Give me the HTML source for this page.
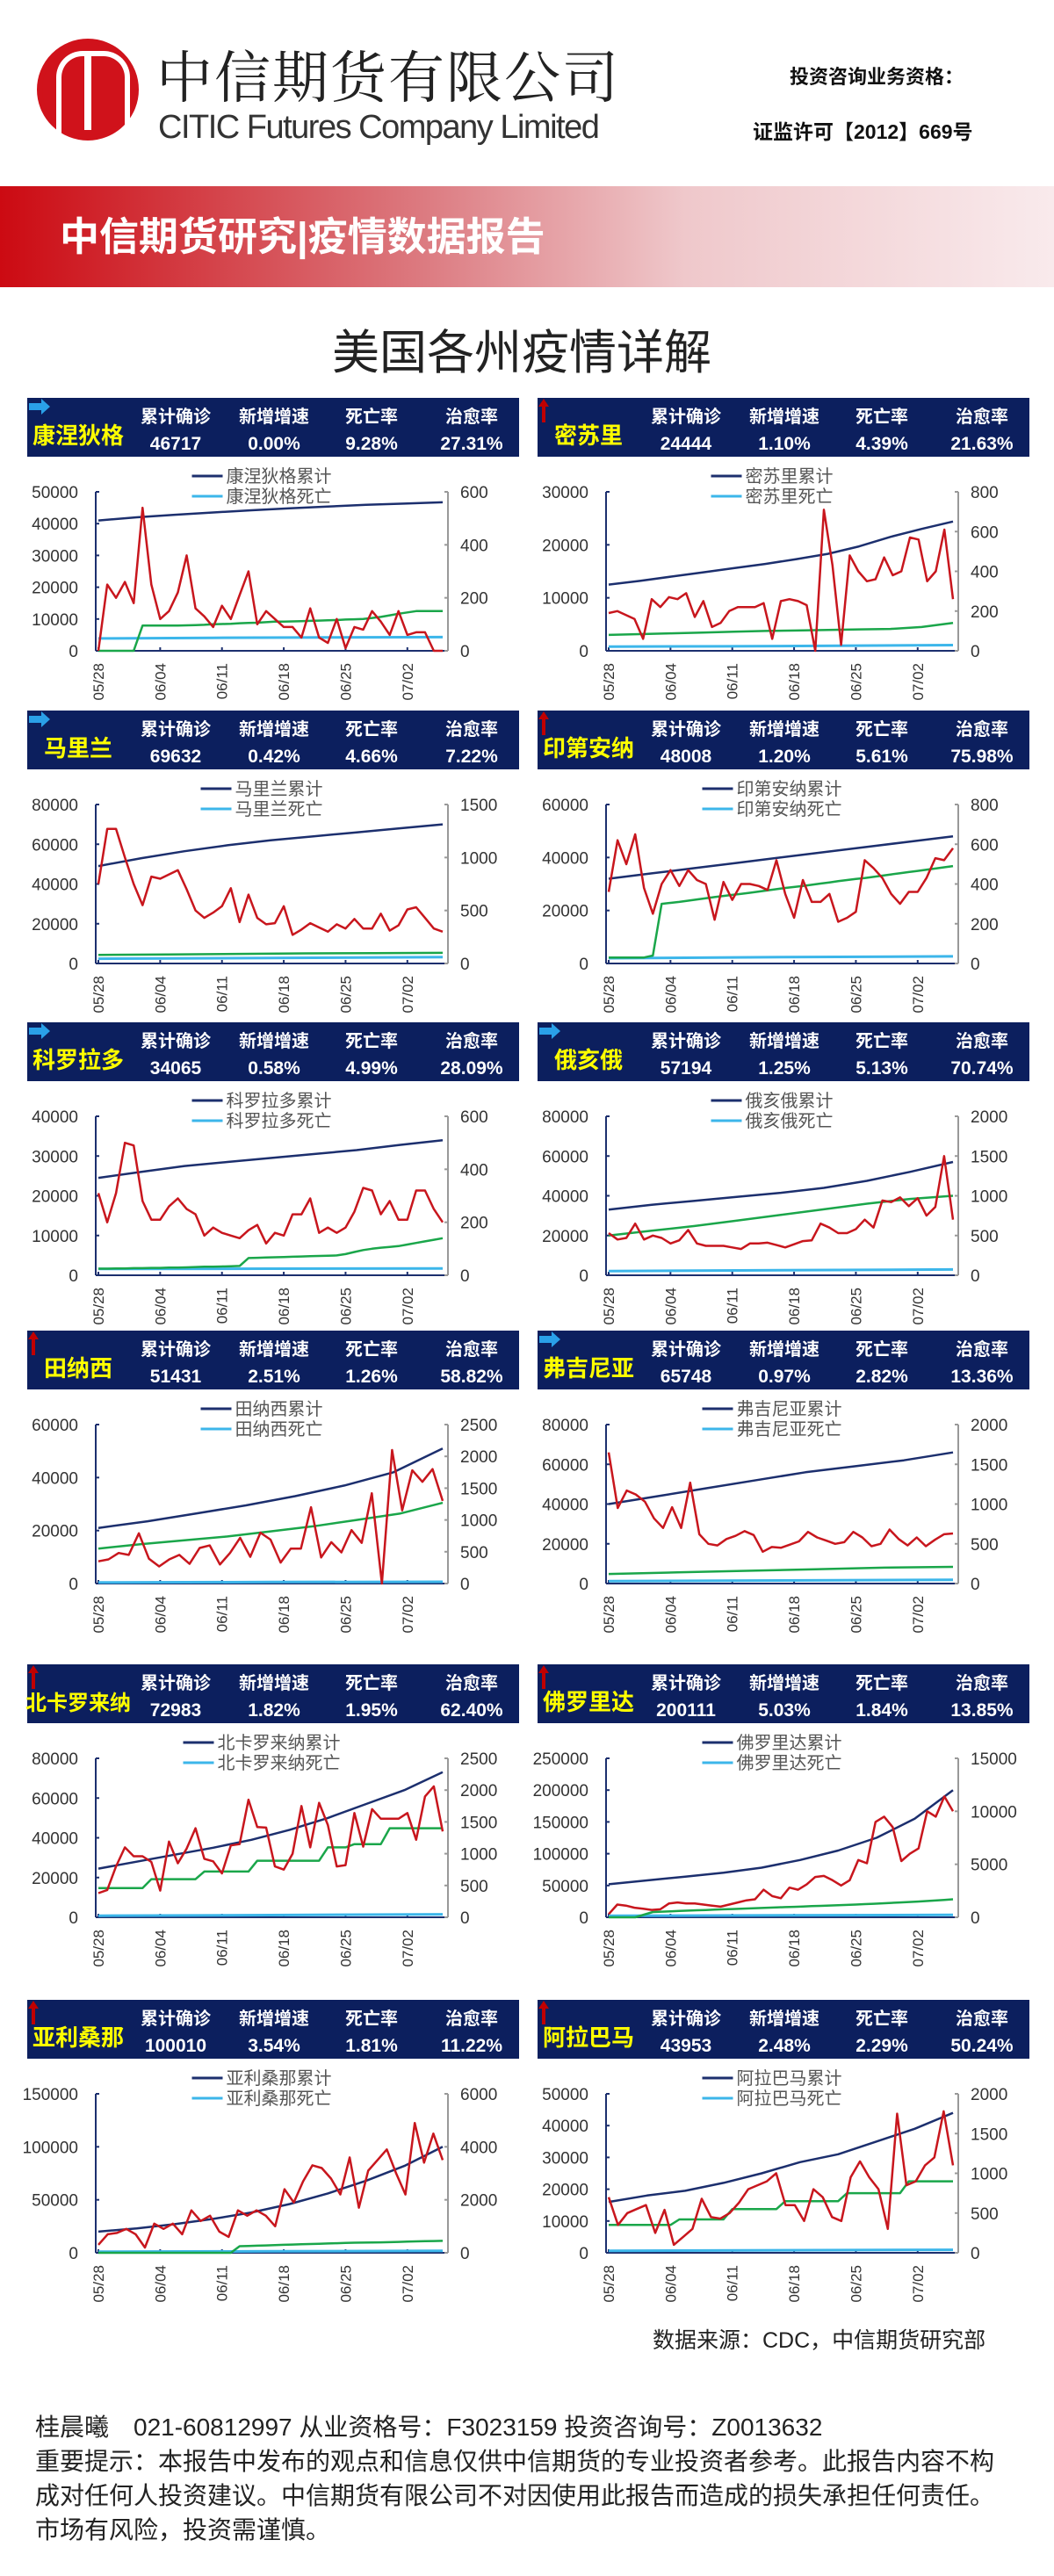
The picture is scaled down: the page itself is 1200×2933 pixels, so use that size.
<!DOCTYPE html>
<html><head><meta charset="utf-8">
<style>
body{margin:0;background:#fff;width:1200px;height:2933px;position:relative;overflow:hidden;font-family:"Liberation Sans","Noto Sans CJK SC",sans-serif;}
.abs{position:absolute;white-space:nowrap;}
</style></head>
<body>
<div class="abs" style="left:42px;top:44px;width:116px;height:116px;border:6px solid #d0121b;border-radius:50%;background:#d0121b;box-sizing:border-box;">
 <div style="position:absolute;left:16px;top:8px;width:72px;height:88px;border-left:6px solid #fff;border-right:6px solid #fff;border-top:6px solid #fff;border-radius:30px 30px 0 0;"></div>
 <div style="position:absolute;left:48px;top:12px;width:8px;height:86px;background:#fff;"></div>
</div>
<div class="abs" style="left:178px;top:48px;font-size:64px;letter-spacing:2px;color:#222;font-family:'Noto Serif CJK SC','Noto Sans CJK SC',serif;line-height:72px;">中信期货有限公司</div>
<div class="abs" style="left:180px;top:124px;font-size:38px;color:#333;letter-spacing:-1.5px;line-height:42px;">CITIC Futures Company Limited</div>
<div class="abs" style="left:899px;top:70px;font-size:22px;font-weight:bold;color:#111;">投资咨询业务资格：</div>
<div class="abs" style="left:857px;top:131px;font-size:23px;font-weight:bold;color:#111;">证监许可【2012】669号</div>
<div class="abs" style="left:0;top:212px;width:1200px;height:115px;background:linear-gradient(90deg,#cc0a12 0%,#dc7a80 40%,#efc8cb 65%,#f9eaec 100%);"></div>
<div class="abs" style="left:68px;top:243px;font-size:45px;font-weight:bold;color:#fff;line-height:54px;">中信期货研究|疫情数据报告</div>
<div class="abs" style="left:378px;top:370px;font-size:54px;color:#222;line-height:64px;">美国各州疫情详解</div>

<svg id="charts" width="1200" height="2933" style="position:absolute;left:0;top:0;" xmlns="http://www.w3.org/2000/svg"></svg>

<div class="abs" style="left:743px;top:2645px;font-size:25px;color:#222;">数据来源：CDC，中信期货研究部</div>
<div class="abs" style="left:40px;top:2744px;font-size:28px;color:#222;line-height:39px;">
桂晨曦　021-60812997 从业资格号：F3023159 投资咨询号：Z0013632<br>
重要提示：本报告中发布的观点和信息仅供中信期货的专业投资者参考。此报告内容不构<br>成对任何人投资建议。中信期货有限公司不对因使用此报告而造成的损失承担任何责任。<br>市场有风险，投资需谨慎。</div>

<script>
const dateLabels = ["05/28","06/04","06/11","06/18","06/25","07/02"];
const dateIdx = [0,7,14,21,28,35];

const ctRed=[0,250,200,260,180,540,250,120,150,220,360,160,130,90,170,120,210,300,100,150,120,90,90,50,160,50,30,120,10,90,80,150,110,60,150,60,70,70,0,0];
const ctGreen=[0,0,0,0,0,95,95,95,95,95,96,97,98,100,101,102,104,105,106,108,110,110,111,112,113,114,115,116,118,119,120,124,128,134,140,145,150,150,150,150];
const ctCum=[41000,42000,42800,43500,44200,44800,45400,45900,46300,46700];
const ctDeath=[3900,4100,4200,4300];

const moRed=[190,200,180,160,60,260,220,270,260,290,170,250,120,140,200,220,220,220,240,60,250,260,250,230,0,710,430,30,480,400,350,360,470,380,400,570,560,350,400,610,260];
const moGreen=[80,84,88,92,96,100,102,105,108,110,120,140];
const moCum=[12500,13200,14000,14800,15600,16400,17300,18300,19700,21500,23000,24400];
const moDeath=[800,850,950,1070];

const mdRed=[750,1270,1270,1000,750,550,820,800,840,880,700,500,430,480,540,710,390,650,430,370,380,540,270,320,380,340,300,370,330,420,330,330,470,310,360,510,530,430,330,300];
const mdGreen=[80,85,90,95,98,100];
const mdCum=[49000,53000,56500,59500,62000,64000,66000,68000,70000];
const mdDeath=[2400,2800,3200];

const inRed=[360,620,500,650,380,250,400,470,390,470,420,400,220,410,320,400,400,390,370,520,350,230,420,310,310,350,210,230,260,520,480,430,350,300,360,360,430,530,520,580];
const inGreen=[30,30,30,30,30,40,300,305,310,316,322,328,334,340,345,350,356,362,368,374,380,385,390,396,402,408,414,420,425,430,436,442,448,454,460,466,472,478,484,490];
const inCum=[32000,34000,36000,38000,40000,42000,44000,46000,48000];
const inDeath=[2000,2400,2700];

const coRed=[310,200,310,500,490,280,210,210,260,290,250,230,150,180,160,150,140,170,190,120,160,150,230,230,290,160,180,160,180,240,330,320,230,280,210,210,320,320,250,200];
const coGreen=[25,25,26,26,27,27,28,28,29,29,30,31,32,32,33,34,35,65,66,67,68,69,70,71,72,73,74,75,80,88,95,100,104,107,110,116,122,128,134,140];
const coCum=[24500,26000,27500,28500,29500,30500,31500,32800,34000];
const coDeath=[1600,1650,1700];

const ohRed=[530,450,470,650,450,500,470,400,440,570,400,370,370,370,350,330,400,400,410,380,350,390,430,440,650,600,530,530,580,700,600,940,920,980,870,970,750,860,1500,700];
const ohGreen=[500,560,620,690,760,830,900,960,1000];
const ohCum=[33000,35500,37500,39500,41500,44000,47500,52000,57000];
const ohDeath=[2100,2500,2900];

const tnRed=[350,380,480,450,790,390,270,380,450,310,560,600,300,480,720,420,800,690,330,550,550,1200,410,650,490,840,640,1420,0,2100,1150,1780,1600,1800,1300];
const tnGreen=[550,620,680,740,820,900,1000,1100,1270];
const tnCum=[21000,23500,26500,29500,33000,37000,42000,51000];
const tnDeath=[400,550,650];

const vaRed=[1650,950,1170,1120,1030,820,700,960,700,1270,620,500,480,560,600,660,610,400,460,450,490,530,650,580,540,500,520,650,580,470,500,680,560,480,580,470,550,620,630];
const vaGreen=[120,140,160,180,200,210];
const vaCum=[40000,44000,48000,52000,56000,59000,62000,66000];
const vaDeath=[1200,1550,1900];

const ncRed=[380,430,800,1100,960,960,870,420,1190,850,1080,1400,920,880,690,1130,1150,1850,1420,1410,800,750,1000,1750,1100,1800,1450,800,820,1640,1110,1700,1550,1550,1550,1640,1220,1900,2060,1350];
const ncGreen=[460,460,460,460,460,460,600,600,600,600,600,600,720,720,720,720,720,720,890,890,890,890,890,890,890,890,1100,1100,1100,1150,1150,1150,1150,1400,1400,1400,1400,1400,1400,1400];
const ncCum=[24500,28000,31500,35000,39000,44000,50000,57000,64000,73000];
const ncDeath=[800,1100,1500];

const flRed=[300,1200,1100,900,800,700,750,1300,1400,1300,1300,1200,1100,1000,1200,1400,1600,1700,2600,2000,1800,2800,2600,3100,3800,3900,3500,3000,3500,5400,5100,9000,9500,8500,5300,6000,6500,10000,9500,11400,10000];
const flGreen=[0,0,0,0,250,500,530,560,600,630,660,690,720,750,780,810,840,870,900,930,960,990,1020,1050,1080,1110,1140,1170,1200,1240,1280,1320,1360,1400,1440,1480,1530,1580,1640,1700];
const flCum=[52000,58000,64000,70000,78000,90000,105000,125000,155000,200000];
const flDeath=[2400,3000,3700];

const azRed=[300,700,750,900,700,200,1100,900,1100,700,1600,1200,1400,800,600,1600,1400,1600,1400,1000,2400,1900,2700,3300,3200,2800,2200,3600,1700,3100,3500,3900,3000,2200,4900,3400,4500,3500];
const azGreen=[0,0,0,0,0,0,0,0,0,0,0,0,0,0,0,0,250,260,270,280,290,300,310,320,330,340,350,360,370,380,385,390,395,400,410,420,430,440,445,450];
const azCum=[20000,23000,27000,32000,38000,46000,56000,68000,82000,100000];
const azDeath=[1000,1400,1800];

const alRed=[700,350,500,550,600,250,540,100,200,300,680,450,430,500,630,800,850,900,1000,600,600,400,800,700,450,400,950,1150,950,800,300,1750,850,900,1100,1200,1780,1100];
const alGreen=[350,350,350,350,350,350,350,350,420,420,420,420,420,420,550,550,550,550,550,550,650,650,650,650,650,650,650,750,750,750,750,750,750,750,900,900,900,900,900,900];
const alCum=[16000,18000,19500,22000,25000,28500,31000,35000,39000,44000];
const alDeath=[600,800,950];

const panels=[
 {n:"康涅狄格",s:["46717","0.00%","9.28%","27.31%"],a:"blue",x:31,y:453,lt:[0,10000,20000,30000,40000,50000],rt:[0,200,400,600],red:ctRed,green:ctGreen,cum:ctCum,death:ctDeath},
 {n:"密苏里",s:["24444","1.10%","4.39%","21.63%"],a:"red",x:612,y:453,lt:[0,10000,20000,30000],rt:[0,200,400,600,800],red:moRed,green:moGreen,cum:moCum,death:moDeath},
 {n:"马里兰",s:["69632","0.42%","4.66%","7.22%"],a:"blue",x:31,y:809,lt:[0,20000,40000,60000,80000],rt:[0,500,1000,1500],red:mdRed,green:mdGreen,cum:mdCum,death:mdDeath},
 {n:"印第安纳",s:["48008","1.20%","5.61%","75.98%"],a:"red",x:612,y:809,lt:[0,20000,40000,60000],rt:[0,200,400,600,800],red:inRed,green:inGreen,cum:inCum,death:inDeath},
 {n:"科罗拉多",s:["34065","0.58%","4.99%","28.09%"],a:"blue",x:31,y:1164,lt:[0,10000,20000,30000,40000],rt:[0,200,400,600],red:coRed,green:coGreen,cum:coCum,death:coDeath},
 {n:"俄亥俄",s:["57194","1.25%","5.13%","70.74%"],a:"blue",x:612,y:1164,lt:[0,20000,40000,60000,80000],rt:[0,500,1000,1500,2000],red:ohRed,green:ohGreen,cum:ohCum,death:ohDeath},
 {n:"田纳西",s:["51431","2.51%","1.26%","58.82%"],a:"red",x:31,y:1515,lt:[0,20000,40000,60000],rt:[0,500,1000,1500,2000,2500],red:tnRed,green:tnGreen,cum:tnCum,death:tnDeath},
 {n:"弗吉尼亚",s:["65748","0.97%","2.82%","13.36%"],a:"blue",x:612,y:1515,lt:[0,20000,40000,60000,80000],rt:[0,500,1000,1500,2000],red:vaRed,green:vaGreen,cum:vaCum,death:vaDeath},
 {n:"北卡罗来纳",s:["72983","1.82%","1.95%","62.40%"],a:"red",x:31,y:1895,lt:[0,20000,40000,60000,80000],rt:[0,500,1000,1500,2000,2500],red:ncRed,green:ncGreen,cum:ncCum,death:ncDeath},
 {n:"佛罗里达",s:["200111","5.03%","1.84%","13.85%"],a:"red",x:612,y:1895,lt:[0,50000,100000,150000,200000,250000],rt:[0,5000,10000,15000],red:flRed,green:flGreen,cum:flCum,death:flDeath},
 {n:"亚利桑那",s:["100010","3.54%","1.81%","11.22%"],a:"red",x:31,y:2277,lt:[0,50000,100000,150000],rt:[0,2000,4000,6000],red:azRed,green:azGreen,cum:azCum,death:azDeath},
 {n:"阿拉巴马",s:["43953","2.48%","2.29%","50.24%"],a:"red",x:612,y:2277,lt:[0,10000,20000,30000,40000,50000],rt:[0,500,1000,1500,2000],red:alRed,green:alGreen,cum:alCum,death:alDeath}
];

const NS="http://www.w3.org/2000/svg";
const svg=document.getElementById('charts');
function mk(tag,attrs,parent,txt){const e=document.createElementNS(NS,tag);for(const k in attrs)e.setAttribute(k,attrs[k]);if(txt!==undefined)e.textContent=txt;(parent||svg).appendChild(e);return e;}

const heads=["累计确诊","新增增速","死亡率","治愈率"];
const colX=[169,281,392,506];

panels.forEach(p=>{
 const g=mk('g',{});
 
 
 const hd=mk('rect',{x:p.x,y:p.y,width:560,height:67,fill:'#0c1f5e'},g);
 
 
 if(p.a==="blue"){
  const ar=mk('path',{d:`M${p.x+2} ${p.y+6}h14v-5l10 9l-10 9v-5h-14z`,fill:'#2aa0e8'},g);
  
  
 } else {
  const ar=mk('path',{d:`M${p.x+5} ${p.y+28}v-18h-4l6-9l6 9h-4v18z`,fill:'#c00000'},g);
  
  
 }
 const nm=mk('text',{x:p.x+58,y:p.y+52,'text-anchor':'middle','font-size':p.n.length>4?24:26,'font-weight':'bold',fill:'#ffff00'},g,p.n);
 
 
 heads.forEach((h,i)=>{
  const t1=mk('text',{x:p.x+colX[i],y:p.y+28,'text-anchor':'middle','font-size':20,'font-weight':'bold',fill:'#fff'},g,h);
  
  
  const t2=mk('text',{x:p.x+colX[i],y:p.y+59,'text-anchor':'middle','font-size':21,'font-weight':'bold',fill:'#fff'},g,p.s[i]);
  
  
 });
 const L=p.x+78,R=p.x+479,T=p.y+107,B=p.y+288;
 const lMax=p.lt[p.lt.length-1],rMax=p.rt[p.rt.length-1];
 const x0=L+3,span=R-L-9;
 const xd=d=>x0+d*span/39;
 const xi=(i,n)=>x0+i*span/(n-1);
 const yl=v=>B-v/lMax*(B-T);
 const yr=v=>B-v/rMax*(B-T);
 const lc=p.x+267, tw=(p.n.length+2)*20, lx=lc-(39+tw)/2;
 [[p.n+"累计","#1c2f6e",T-18],[p.n+"死亡","#3cb6ea",T+5]].forEach(([t,c,yy])=>{
  const ln=mk('line',{x1:lx,y1:yy,x2:lx+35,y2:yy,stroke:c,'stroke-width':3},g);
  
  
  const lt=mk('text',{x:lx+39,y:yy+7,'font-size':20,fill:'#555'},g,t);
  
  
 });
 const ax1=mk('line',{x1:L,y1:T,x2:L,y2:B,stroke:'#1c2f6e','stroke-width':2},g);
 
 
 const ax2=mk('line',{x1:R,y1:T,x2:R,y2:B,stroke:'#999','stroke-width':2},g);
 
 
 const ax3=mk('line',{x1:L,y1:B,x2:R,y2:B,stroke:'#1c2f6e','stroke-width':2},g);
 
 
 p.lt.forEach(v=>{
  mk('line',{x1:L,y1:yl(v),x2:L+4,y2:yl(v),stroke:'#1c2f6e','stroke-width':2},g);
  const t=mk('text',{x:L-20,y:yl(v)+7,'text-anchor':'end','font-size':19,fill:'#333'},g,String(v));
  
  
 });
 p.rt.forEach(v=>{
  mk('line',{x1:R-4,y1:yr(v),x2:R,y2:yr(v),stroke:'#999','stroke-width':2},g);
  const t=mk('text',{x:R+14,y:yr(v)+7,'font-size':19,fill:'#333'},g,String(v));
  
  
 });
 dateIdx.forEach((d,i)=>{
  const xx=xd(d);
  mk('line',{x1:xx,y1:B-4,x2:xx,y2:B,stroke:'#1c2f6e','stroke-width':2},g);
  const t=mk('text',{x:0,y:0,'text-anchor':'end','font-size':17,fill:'#333',transform:`translate(${xx+6},${B+14}) rotate(-90)`},g,dateLabels[i]);
  
  
 });
 function line(arr,fy,color,w,name){
  const pts=arr.map((v,i)=>xi(i,arr.length).toFixed(1)+","+fy(v).toFixed(1)).join(" ");
  const pl=mk('polyline',{points:pts,fill:'none',stroke:color,'stroke-width':w,'stroke-linejoin':'round'},g);
  
  
 }
 line(p.death,yl,'#3cb6ea',3,'deaths-line');
 line(p.green,yr,'#1aa64a',2.5,'green-series-line');
 line(p.cum,yl,'#1c2f6e',2.5,'cumulative-line');
 line(p.red,yr,'#c8161d',2.5,'daily-new-line');
});
</script>
</body></html>
